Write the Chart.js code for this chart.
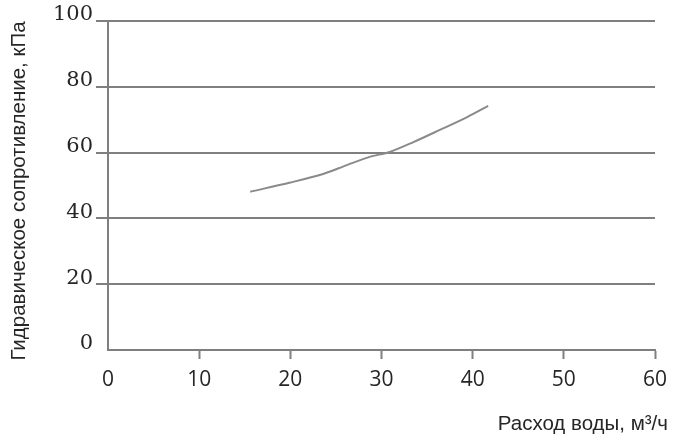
<!DOCTYPE html>
<html>
<head>
<meta charset="utf-8">
<script src="https://cdn.jsdelivr.net/npm/chart.js@4/dist/chart.umd.min.js"></script>
<style>
  html, body { margin: 0; padding: 0; background: #ffffff; }
  #wrap { width: 673px; height: 441px; }
</style>
</head>
<body>
<div id="wrap"><canvas id="c" width="673" height="441"></canvas></div>
<script>
// Data
const flowValues = [15.6, 20.0, 23.6, 26.2, 28.7, 30.9, 33.5, 36.4, 39.4, 41.7];
const resistanceValues = [48.1, 50.9, 53.5, 56.2, 58.7, 60.2, 63.2, 66.9, 70.8, 74.2];
const xTicks = [0, 10, 20, 30, 40, 50, 60];
const yTicks = [0, 20, 40, 60, 80, 100];
const xTitle = 'Расход воды, м³/ч';
const yTitle = 'Гидравическое сопротивление, кПа';

const points = flowValues.map((x, i) => ({ x: x, y: resistanceValues[i] }));
const gridGray = '#7f7f7f';

const titlesPlugin = {
  id: 'titles',
  afterDraw(chart) {
    const ctx = chart.ctx;
    ctx.save();
    ctx.fillStyle = '#262626';
    ctx.font = '20.5px "Liberation Sans", Arial, sans-serif';
    ctx.textAlign = 'right';
    ctx.textBaseline = 'middle';
    ctx.fillText(xTitle, 668, 424);
    ctx.translate(19, 191);
    ctx.rotate(-Math.PI / 2);
    ctx.textAlign = 'center';
    ctx.fillText(yTitle, 0, 0);
    ctx.restore();
  }
};

new Chart(document.getElementById('c'), {
  type: 'scatter',
  data: {
    datasets: [{
      data: points,
      showLine: true,
      borderColor: '#8a8a8a',
      borderWidth: 2,
      pointRadius: 0,
      tension: 0.3,
      fill: false
    }]
  },
  options: {
    responsive: false,
    animation: false,
    devicePixelRatio: 1,
    layout: { padding: { top: 21, right: 18, left: 0, bottom: 0 } },
    plugins: { legend: { display: false }, tooltip: { enabled: false } },
    scales: {
      x: {
        type: 'linear',
        min: 0, max: 60,
        afterBuildTicks(scale) { scale.ticks = xTicks.map(v => ({ value: v })); },
        afterFit(scale) { scale.height = 91; scale.paddingRight = 0; scale.paddingLeft = 0; },
        border: { display: true, color: gridGray, width: 2 },
        grid: {
          drawOnChartArea: false,
          drawTicks: true,
          tickLength: 9,
          tickWidth: 2,
          tickColor: (ctx) => (ctx.tick && ctx.tick.value === 0) ? 'rgba(0,0,0,0)' : gridGray
        },
        ticks: {
          color: '#262626',
          padding: 8,
          maxRotation: 0,
          font: { family: '"Open Sans", sans-serif', size: 21 }
        }
      },
      y: {
        type: 'linear',
        min: 0, max: 100,
        afterBuildTicks(scale) { scale.ticks = yTicks.map(v => ({ value: v })); },
        afterFit(scale) { scale.width = 108; },
        border: { display: true, color: gridGray, width: 2 },
        grid: {
          drawOnChartArea: true,
          drawTicks: true,
          tickLength: 12,
          lineWidth: 2,
          color: (ctx) => (ctx.tick && ctx.tick.value === 0) ? 'rgba(0,0,0,0)' : gridGray,
          tickColor: (ctx) => (ctx.tick && ctx.tick.value === 0) ? 'rgba(0,0,0,0)' : gridGray
        },
        ticks: {
          color: '#262626',
          padding: 3,
          labelOffset: -6,
          font: { family: '"DejaVu Serif", serif', size: 21 }
        }
      }
    }
  },
  plugins: [titlesPlugin]
});
</script>
</body>
</html>
